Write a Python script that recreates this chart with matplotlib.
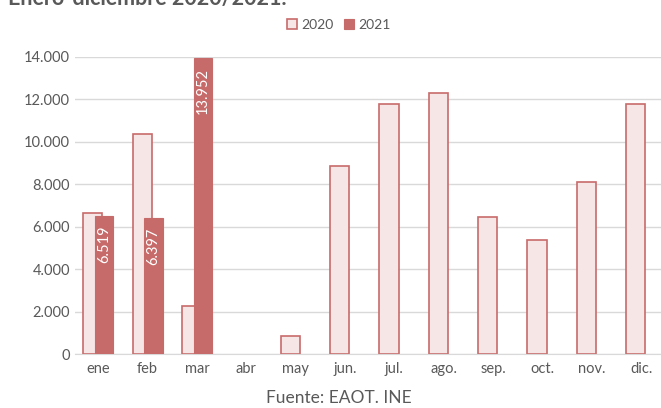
import numpy as np
import matplotlib.pyplot as plt
from matplotlib.ticker import FuncFormatter

meses = ["ene", "feb", "mar", "abr", "may", "jun.", "jul.", "ago.", "sep.", "oct.", "nov.", "dic."]
v2020 = [6650, 10370, 2260, 0, 850, 8860, 11780, 12300, 6460, 5380, 8110, 11780]
v2021 = [6519, 6397, 13952]

rojo = "#C76B6A"
rosa = "#F6E6E6"
gris = "#595959"

plt.rcParams['font.family'] = ['Lato', 'DejaVu Sans']

fig = plt.figure(figsize=(6.61, 4.08), dpi=100)
ax = fig.add_axes([75/661, 1-354/408, 1-75/661, (354-57)/408])

x = np.arange(len(meses))
w = 0.39
bars = ax.bar(x - 0.11, v2020, width=w, color=rosa, edgecolor=rojo, linewidth=1.2, label="2020", zorder=2)
for b, v in zip(bars, v2020):
    if v == 0:
        b.set_visible(False)
x21 = x[:len(v2021)] + 0.12
ax.bar(x21, v2021, width=0.37, color=rojo, edgecolor=rojo, linewidth=0.8, label="2021", zorder=3)

fmt = lambda v: f"{v:,.0f}".replace(",", ".")
for xi, v in zip(x21, v2021):
    ax.text(xi, v - 450, fmt(v), rotation=90, ha="center", va="top",
            color="white", fontsize=10.5, zorder=4)

ax.set_ylim(0, 14000)
ax.set_xlim(-0.47, 11.4)
ax.set_yticks(range(0, 14001, 2000))
ax.yaxis.set_major_formatter(FuncFormatter(lambda v, p: fmt(v)))
ax.set_xticks(x)
ax.set_xticklabels(meses)
ax.tick_params(axis="both", length=0, labelsize=10.5, colors=gris)
ax.tick_params(axis="x", pad=6)
ax.grid(axis="y", color="#D9D9D9", linewidth=1, zorder=0)
for s in ["top", "right", "left"]:
    ax.spines[s].set_visible(False)
ax.spines["bottom"].set_color("#D9D9D9")

ax.legend(loc="upper center", bbox_to_anchor=(0.45, 1.17), ncol=2, frameon=False,
          fontsize=10, handlelength=0.7, handleheight=0.7, handletextpad=0.3,
          columnspacing=0.8, labelcolor=gris)

fig.text(0.012, 1 - 5/408, "Enero-diciembre 2020/2021.", fontsize=15.5, fontweight="bold",
         color=gris, va="baseline", ha="left")
fig.text(339/661, 1 - 398/408, "Fuente: EAOT. INE", fontsize=12.5, color=gris,
         ha="center", va="center")

fig.savefig("out.png", dpi=100)
